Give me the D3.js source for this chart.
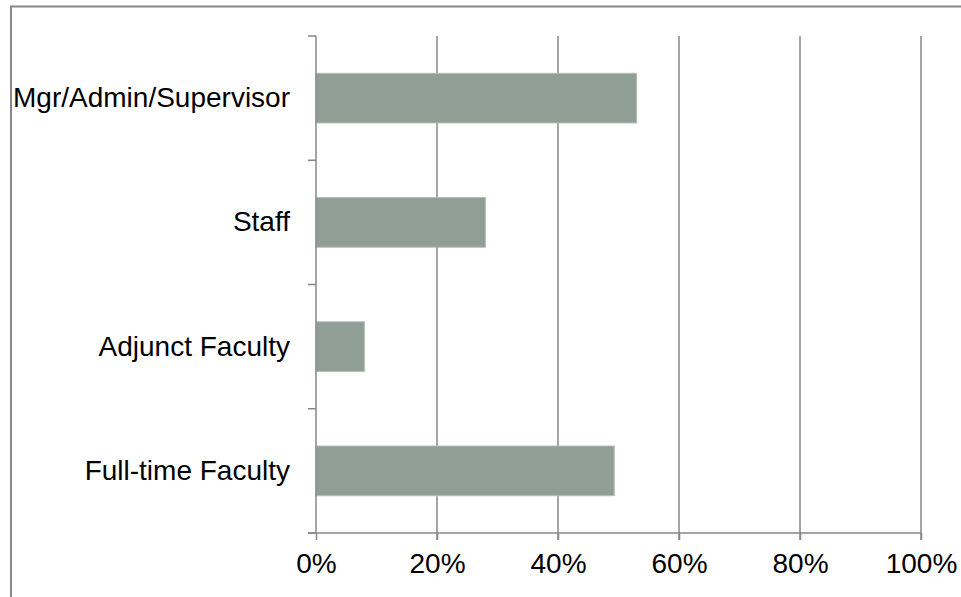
<!DOCTYPE html>
<html>
<head>
<meta charset="utf-8">
<script src="https://cdn.jsdelivr.net/npm/d3@7"></script>
<style>
  html, body { margin: 0; padding: 0; background: #fff; }
  svg { display: block; }
  text { font-family: "Liberation Sans", Arial, sans-serif; fill: #000; }
</style>
</head>
<body>
<svg id="chart" width="961" height="597"></svg>
<script>
const categories = ["Mgr/Admin/Supervisor", "Staff", "Adjunct Faculty", "Full-time Faculty"];
const values = [0.53, 0.28, 0.08, 0.493];
const xTicks = [0, 0.2, 0.4, 0.6, 0.8, 1.0];

const svg = d3.select("#chart");
const W = 961, H = 597;
const plotLeft = 316, plotRight = 921, plotTop = 36, plotBottom = 533;
const gridColor = "#878787";

// outer frame (top and left edges visible)
svg.append("path")
  .attr("d", `M11,${H} L11,6.5 L${W},6.5`)
  .attr("fill", "none")
  .attr("stroke", gridColor)
  .attr("stroke-width", 2);

const x = d3.scaleLinear().domain([0, 1]).range([plotLeft, plotRight]);
const y = d3.scaleBand().domain(categories).range([plotTop, plotBottom])
  .paddingInner(0.6).paddingOuter(0.3);

// vertical gridlines (with tick extension below axis)
svg.append("g").selectAll("line").data(xTicks.slice(1)).join("line")
  .attr("x1", d => x(d)).attr("x2", d => x(d))
  .attr("y1", plotTop).attr("y2", plotBottom + 7)
  .attr("stroke", gridColor).attr("stroke-width", 1.5);

// bars
svg.append("g").selectAll("rect").data(categories).join("rect")
  .attr("x", x(0))
  .attr("y", d => y(d))
  .attr("width", (d, i) => x(values[i]) - x(0))
  .attr("height", y.bandwidth())
  .attr("fill", "#909f95")
  .attr("stroke", "#b3bfb6")
  .attr("stroke-width", 1);

// x axis
const xAxis = d3.axisBottom(x).tickValues(xTicks)
  .tickFormat(d3.format(".0%")).tickSize(7).tickPadding(13).tickSizeOuter(0);
const gx = svg.append("g").attr("transform", `translate(0,${plotBottom})`).call(xAxis);
gx.select(".domain").remove();
gx.append("line").attr("x1", plotLeft - 8).attr("x2", plotRight).attr("y1", 0).attr("y2", 0)
  .attr("stroke", gridColor).attr("stroke-width", 1.5);
gx.selectAll(".tick line").attr("stroke", gridColor).attr("stroke-width", 1.5);
gx.selectAll(".tick text").attr("font-size", "28px").attr("fill", "#000")
  .style("font-family", "'Liberation Sans', Arial, sans-serif");

// y axis line and tick marks between categories
const yBoundaries = d3.range(categories.length + 1).map(i => plotTop + i * y.step());
const gy = svg.append("g");
gy.append("line").attr("x1", plotLeft).attr("x2", plotLeft).attr("y1", plotTop).attr("y2", plotBottom)
  .attr("stroke", gridColor).attr("stroke-width", 1.5);
gy.selectAll("line.tk").data(yBoundaries).join("line").attr("class", "tk")
  .attr("x1", plotLeft - 8).attr("x2", plotLeft).attr("y1", d => d).attr("y2", d => d)
  .attr("stroke", gridColor).attr("stroke-width", 1.5);

// category labels
svg.append("g").selectAll("text").data(categories).join("text")
  .attr("x", plotLeft - 26)
  .attr("y", d => y(d) + y.bandwidth() / 2)
  .attr("dy", "0.32em")
  .attr("text-anchor", "end")
  .attr("font-size", "28px")
  .text(d => d);
</script>
</body>
</html>
